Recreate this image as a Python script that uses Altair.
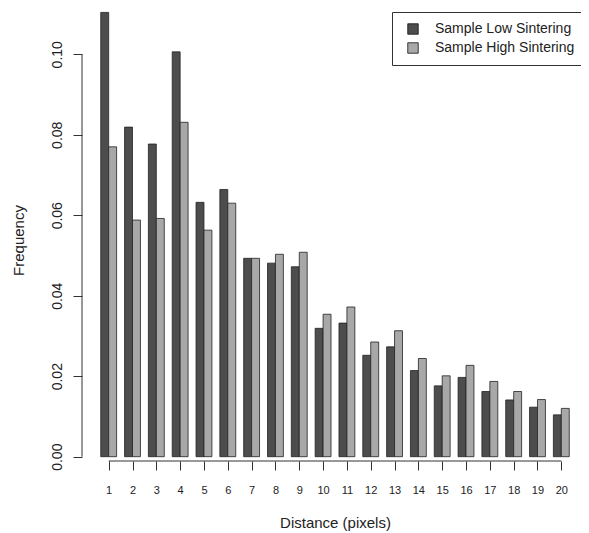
import altair as alt
import pandas as pd

distance = list(range(1, 21))
low_sintering = [0.1104, 0.0819, 0.0777, 0.1006, 0.0632, 0.0664, 0.0493, 0.0481, 0.0472, 0.0319,
                 0.0332, 0.0252, 0.0273, 0.0214, 0.0176, 0.0197, 0.0162, 0.0141, 0.0123, 0.0104]
high_sintering = [0.0770, 0.0588, 0.0592, 0.0831, 0.0563, 0.0630, 0.0493, 0.0503, 0.0508, 0.0354,
                  0.0372, 0.0285, 0.0313, 0.0244, 0.0201, 0.0227, 0.0187, 0.0162, 0.0142, 0.0120]
series_names = ["Sample Low Sintering", "Sample High Sintering"]
series_colors = ["#4d4d4d", "#a8a8a8"]
y_ticks = [0.0, 0.02, 0.04, 0.06, 0.08, 0.10]

rows = []
for k, (name, vals) in enumerate(zip(series_names, [low_sintering, high_sintering])):
    for d, v in zip(distance, vals):
        start = 3 * d - 2 + k  # R barplot beside=TRUE, space=c(0,1)
        rows.append({"distance": d, "series": name, "x0": start, "x1": start + 1, "value": v})
df = pd.DataFrame(rows)

centers = [3 * d - 1 for d in distance]
PLOT_W, PLOT_H = 499, 453
x_min = -1.36
x_max = x_min + PLOT_W / 7.941
y_min, y_max = -0.00107, 0.1115
FONT = "Liberation Sans"

xs = alt.Scale(domain=[x_min, x_max], nice=False, zero=False)
ys = alt.Scale(domain=[y_min, y_max], nice=False, zero=False)

x_axis = alt.Axis(
    values=centers, labelExpr="(datum.value + 1) / 3", domain=False, grid=False,
    labelOverlap=False, labelBound=False, labelFlush=False,
    tickSize=9, tickColor="#333333", labelFontSize=11, labelFont=FONT,
    labelColor="#222222", labelPadding=14, title="Distance (pixels)", titleFont=FONT,
    titleFontSize=15, titleFontWeight="normal", titleColor="#222222", titleX=253, titleY=66,
    titleBaseline="alphabetic", titleAlign="center")
y_axis = alt.Axis(
    values=y_ticks, format=".2f", domain=False, grid=False, tickSize=9, tickColor="#333333",
    labelOverlap=False, labelAngle=270, labelAlign="center", labelBaseline="bottom", labelPadding=9,
    labelFontSize=14, labelFont=FONT, labelColor="#222222",
    title="Frequency", titleFont=FONT, titleFontSize=15, titleFontWeight="normal",
    titleColor="#222222", titleAngle=270, titleX=-64, titleY=232,
    titleAlign="center", titleBaseline="middle")

bars = alt.Chart(df).mark_bar(stroke="#222222", strokeWidth=0.8).encode(
    x=alt.X("x0:Q", scale=xs, axis=x_axis),
    x2="x1:Q",
    y=alt.Y("value:Q", scale=ys, axis=y_axis),
    y2=alt.datum(0),
    color=alt.Color("series:N", scale=alt.Scale(domain=series_names, range=series_colors),
                    legend=alt.Legend(
                        title=None, orient="none", legendX=310, legendY=4,
                        strokeColor="#333333", fillColor="white", padding=10,
                        symbolType="square", symbolSize=110, symbolStrokeColor="#111111",
                        symbolStrokeWidth=0.8, symbolOpacity=1, symbolOffset=4,
                        labelFont=FONT, labelFontSize=14, labelColor="#222222",
                        labelOffset=15, rowPadding=5)),
)

xaxis_line = alt.Chart(pd.DataFrame({"a": [centers[0]], "b": [centers[-1]], "y": [y_min]})).mark_rule(
    color="#333333", strokeWidth=1).encode(
    x=alt.X("a:Q", scale=xs, axis=x_axis), x2="b:Q", y=alt.Y("y:Q", scale=ys, axis=y_axis))
yaxis_line = alt.Chart(pd.DataFrame({"x": [x_min], "a": [y_ticks[0]], "b": [y_ticks[-1]]})).mark_rule(
    color="#333333", strokeWidth=1).encode(
    x=alt.X("x:Q", scale=xs, axis=x_axis), y=alt.Y("a:Q", scale=ys, axis=y_axis), y2="b:Q")

chart = alt.layer(bars, xaxis_line, yaxis_line).properties(
    width=PLOT_W, height=PLOT_H,
    autosize=alt.AutoSizeParams(type="none"),
    padding={"left": 74, "top": 0, "right": 0, "bottom": 71},
    background="white",
).configure_view(stroke=None).configure_axis(labelOverlap=False)

chart.save("out.html", embed_options={"renderer": "svg", "actions": False})
